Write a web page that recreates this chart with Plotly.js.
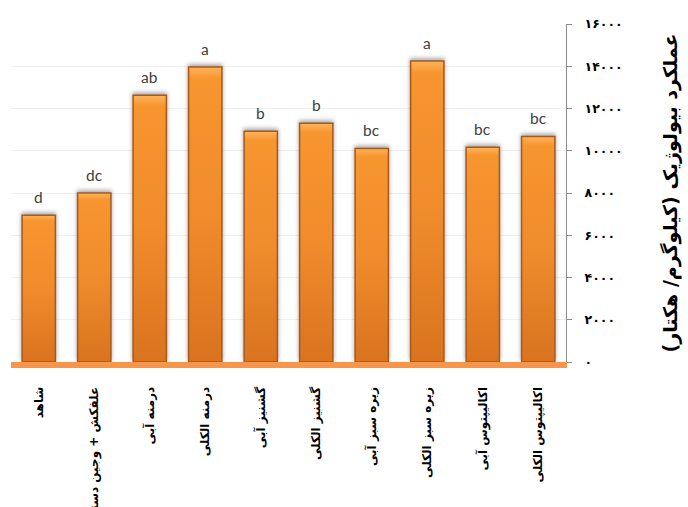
<!DOCTYPE html>
<html>
<head>
<meta charset="utf-8">
<script src="https://cdn.plot.ly/plotly-3.0.1.min.js"></script>
<style>
html,body{margin:0;padding:0;background:#fff;}
#chart{width:688px;height:507px;}
</style>
</head>
<body>
<div id="chart"></div>
<script>
const categories = [
  'شاهد',
  'علفکش + وجین دستی',
  'درمنه آبی',
  'درمنه الکلی',
  'گشنیز آبی',
  'گشنیز الکلی',
  'زیره سبز آبی',
  'زیره سبز الکلی',
  'اکالیپتوس آبی',
  'اکالیپتوس الکلی'
];
const values = [6950, 8000, 12630, 13960, 10920, 11300, 10110, 14250, 10160, 10680];
const letters = ['d', 'dc', 'ab', 'a', 'b', 'b', 'bc', 'a', 'bc', 'bc'];
const yTickVals = [0, 2000, 4000, 6000, 8000, 10000, 12000, 14000, 16000];
const yTickText = ['۰', '۲۰۰۰', '۴۰۰۰', '۶۰۰۰', '۸۰۰۰', '۱۰۰۰۰', '۱۲۰۰۰', '۱۴۰۰۰', '۱۶۰۰۰'];
const yTitle = 'عملکرد بیولوژیک (کیلوگرم/ هکتار)';

const trace = {
  type: 'bar',
  x: categories,
  y: values,
  marker: {color: '#F28F2E', line: {color: '#A85A1C', width: 1.5}},
  hoverinfo: 'none'
};

const annotations = categories.map((c, i) => ({
  x: c, y: values[i], text: letters[i],
  xref: 'x', yref: 'y', showarrow: false,
  yanchor: 'bottom', yshift: 7,
  font: {family: 'Lato, "Liberation Sans", sans-serif', size: 15.5, color: '#404040'}
}));

const layout = {
  width: 688, height: 507,
  margin: {l: 11, r: 122, t: 24, b: 145},
  paper_bgcolor: '#ffffff', plot_bgcolor: '#ffffff',
  showlegend: false,
  bargap: 0.4,
  xaxis: {
    type: 'category',
    tickangle: -90,
    showline: true, linecolor: '#F7964A', linewidth: 6,
    ticks: 'outside', ticklen: 14, tickcolor: 'rgba(0,0,0,0)',
    showgrid: false,
    tickfont: {family: '"DejaVu Sans", sans-serif', size: 12, color: '#000'},
    automargin: false
  },
  yaxis: {
    side: 'right',
    range: [0, 16000],
    tickvals: yTickVals, ticktext: yTickText,
    showline: true, linecolor: '#8c8c8c', linewidth: 1,
    ticks: 'outside', ticklen: 5, tickcolor: '#8c8c8c',
    showgrid: true, gridcolor: 'rgba(0,0,0,0.06)',
    zeroline: false,
    ticklabelstandoff: 10,
    tickfont: {family: '"DejaVu Sans", sans-serif', size: 12.5, color: '#000', weight: 'bold'},
    title: {text: yTitle, standoff: 42,
      font: {family: '"DejaVu Sans", sans-serif', size: 19, color: '#000', weight: 'bold'}},
    automargin: false
  },
  annotations: annotations
};

Plotly.newPlot('chart', [trace], layout, {displayModeBar: false, staticPlot: true}).then(gd => {
  const NS = 'http://www.w3.org/2000/svg';
  const svg = gd.querySelector('.main-svg');
  let defs = svg.querySelector('defs');
  if (!defs) { defs = document.createElementNS(NS, 'defs'); svg.insertBefore(defs, svg.firstChild); }
  const g = document.createElementNS(NS, 'linearGradient');
  g.setAttribute('id', 'barGrad');
  g.setAttribute('x1', '0'); g.setAttribute('y1', '0');
  g.setAttribute('x2', '0'); g.setAttribute('y2', '1');
  [['0', '#FFB45A'], ['0.04', '#F7952F'], ['0.5', '#F08C2C'], ['1', '#D9731F']].forEach(([o, c]) => {
    const s = document.createElementNS(NS, 'stop');
    s.setAttribute('offset', o); s.setAttribute('stop-color', c);
    g.appendChild(s);
  });
  defs.appendChild(g);
  gd.querySelectorAll('.trace.bars .point path').forEach(p => {
    p.style.fill = 'url(#barGrad)';
    p.style.filter = 'drop-shadow(0px -2px 2px rgba(0,0,0,0.35))';
  });
  gd.querySelectorAll('.xtick text').forEach(t => { t.style.fontWeight = 'bold'; });
});
</script>
</body>
</html>
